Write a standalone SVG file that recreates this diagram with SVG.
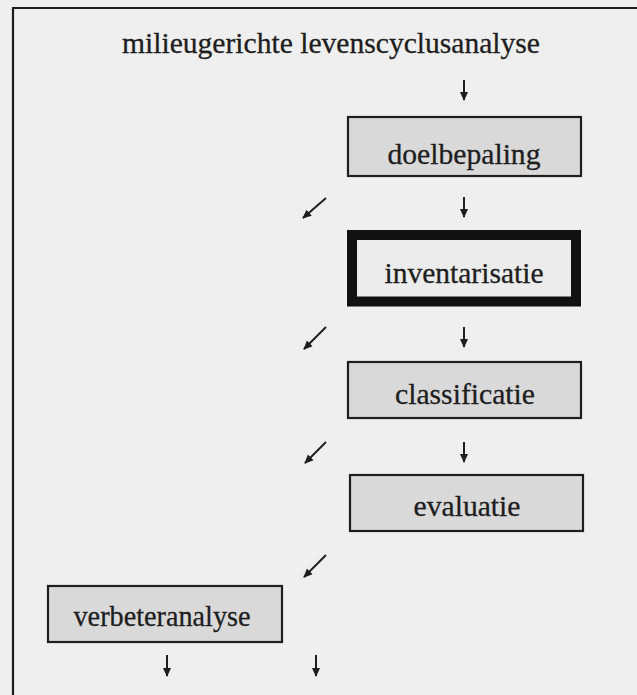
<svg xmlns="http://www.w3.org/2000/svg" width="637" height="695" viewBox="0 0 637 695">
<defs>
<marker id="ah" viewBox="0 0 10 10" refX="9" refY="5" markerWidth="9" markerHeight="9" markerUnits="userSpaceOnUse" orient="auto">
<path d="M0,0.5 L10,5 L0,9.5 z" fill="#1e1e1e"/>
</marker>
<style>
.lbl{font-family:"Liberation Serif","Times New Roman",serif;font-size:29.5px;fill:#1e1e1e;stroke:#1e1e1e;stroke-width:0.3;text-anchor:middle}
.box{fill:#d9d9d9;stroke:#1e1e1e;stroke-width:2.2}
.arr{stroke:#1e1e1e;stroke-width:2;fill:none;marker-end:url(#ah)}
</style>
</defs>
<rect x="0" y="0" width="637" height="695" fill="#efefef"/>
<g id="frame">
<path d="M13,695 L13,8 L637,8" fill="none" stroke="#1e1e1e" stroke-width="2.2"/>
<text class="lbl" x="331" y="53" textLength="418" lengthAdjust="spacingAndGlyphs">milieugerichte levenscyclusanalyse</text>
</g>
<g id="doelbepaling">
<rect class="box" x="348" y="117" width="233" height="59"/>
<text class="lbl" x="464" y="164" textLength="153" lengthAdjust="spacingAndGlyphs">doelbepaling</text>
</g>
<g id="inventarisatie">
<rect x="352" y="235" width="224" height="66.5" fill="#ececec" stroke="#111" stroke-width="10"/>
<text class="lbl" x="464" y="283" textLength="159" lengthAdjust="spacingAndGlyphs">inventarisatie</text>
</g>
<g id="classificatie">
<rect class="box" x="348" y="362" width="233" height="56"/>
<text class="lbl" x="465" y="404" textLength="140" lengthAdjust="spacingAndGlyphs">classificatie</text>
</g>
<g id="evaluatie">
<rect class="box" x="350" y="475" width="233" height="56"/>
<text class="lbl" x="467" y="516" textLength="107" lengthAdjust="spacingAndGlyphs">evaluatie</text>
</g>
<g id="verbeteranalyse">
<rect class="box" x="48" y="586" width="234" height="56"/>
<text class="lbl" x="162" y="626" textLength="177" lengthAdjust="spacingAndGlyphs">verbeteranalyse</text>
</g>
<g id="connectors">
<line class="arr" x1="464" y1="80" x2="464" y2="100"/>
<line class="arr" x1="464" y1="197" x2="464" y2="217"/>
<line class="arr" x1="464" y1="327" x2="464" y2="347"/>
<line class="arr" x1="464" y1="442" x2="464" y2="462"/>
<line class="arr" x1="326" y1="198" x2="303" y2="218"/>
<line class="arr" x1="326" y1="327" x2="304" y2="349"/>
<line class="arr" x1="326" y1="442" x2="305" y2="463"/>
<line class="arr" x1="326" y1="555" x2="304" y2="577"/>
<line class="arr" x1="167" y1="655" x2="167" y2="676"/>
<line class="arr" x1="316" y1="655" x2="316" y2="676"/>
</g>
</svg>
